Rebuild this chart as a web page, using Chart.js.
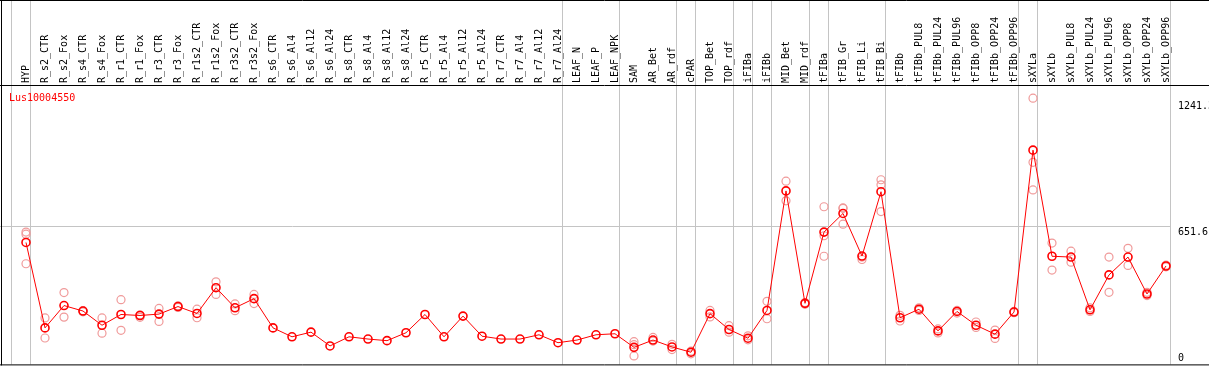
<!DOCTYPE html>
<html>
<head>
<meta charset="utf-8">
<script src="https://cdn.jsdelivr.net/npm/chart.js@4.4.0/dist/chart.umd.min.js"></script>
<style>
  body { margin: 0; background: #fff; }
  canvas { display: block; }
</style>
</head>
<body>
<canvas id="geneChart" width="1209" height="370"></canvas>
<script>
const title = 'Lus10004550';

const categories = [
  'HYP', 'R_s2_CTR', 'R_s2_Fox', 'R_s4_CTR', 'R_s4_Fox', 'R_r1_CTR', 'R_r1_Fox',
  'R_r3_CTR', 'R_r3_Fox', 'R_r1s2_CTR', 'R_r1s2_Fox', 'R_r3s2_CTR', 'R_r3s2_Fox',
  'R_s6_CTR', 'R_s6_Al4', 'R_s6_Al12', 'R_s6_Al24', 'R_s8_CTR', 'R_s8_Al4',
  'R_s8_Al12', 'R_s8_Al24', 'R_r5_CTR', 'R_r5_Al4', 'R_r5_Al12', 'R_r5_Al24',
  'R_r7_CTR', 'R_r7_Al4', 'R_r7_Al12', 'R_r7_Al24', 'LEAF_N', 'LEAF_P', 'LEAF_NPK',
  'SAM', 'AR_Bet', 'AR_rdf', 'cPAR', 'TOP_Bet', 'TOP_rdf', 'iFIBa', 'iFIBb',
  'MID_Bet', 'MID_rdf', 'tFIBa', 'tFIB_Gr', 'tFIB_Li', 'tFIB_Bi', 'tFIBb',
  'tFIBb_PUL8', 'tFIBb_PUL24', 'tFIBb_PUL96', 'tFIBb_OPP8', 'tFIBb_OPP24', 'tFIBb_OPP96',
  'sXYLa', 'sXYLb', 'sXYLb_PUL8', 'sXYLb_PUL24', 'sXYLb_PUL96', 'sXYLb_OPP8',
  'sXYLb_OPP24', 'sXYLb_OPP96'
];

// index of the last sample in each tissue group
const groupEnds = [0, 28, 31, 34, 35, 37, 38, 39, 41, 42, 45, 52, 53, 60];

const means = [
  572, 151, 261, 234, 164, 217, 212, 219, 256, 222, 349, 250, 295,
  151, 107, 130, 62, 107, 96, 88, 127, 217, 107, 209, 110,
  96, 96, 117, 78, 91, 117, 122,
  55, 91, 57, 31, 221, 143, 100, 237,
  826, 272, 623, 715, 505, 822, 201,
  243, 136, 232, 164, 120, 229,
  1027, 504, 500, 240, 412, 500, 318, 456
];

const rep1 = [
  623, 200, 325, 236, 200, 290, 215, 247, 260, 243, 378, 269, 316,
  null, null, null, null, null, null, null, null, null, null, null, null,
  null, null, null, null, null, null, null,
  83, 104, 70, 36, 237, 162, 112, 282,
  874, 276, 748, 740, 500, 881, 213,
  250, 146, 237, 180, 140, 232,
  1283, 569, 529, 250, 500, 543, 326, 460
];

const rep2 = [
  613, 101, 204, 230, 125, 139, 203, 183, 252, 201, 316, 236, 271,
  null, null, null, null, null, null, null, null, null, null, null, null,
  null, null, null, null, null, null, null,
  68, 86, 44, 23, 205, 130, 92, 196,
  777, 268, 605, 662, 488, 856, 185,
  237, 126, 224, 153, 99, 226,
  967, 436, 475, 232, 326, 459, 310, 452
];

const rep3 = [
  467, null, null, null, null, null, null, null, null, null, null, null, null,
  null, null, null, null, null, null, null, null, null, null, null, null,
  null, null, null, null, null, null, null,
  13, null, null, null, null, null, null, null,
  null, null, 504, 742, null, 724, null,
  null, null, null, null, null, null,
  831, null, null, null, null, null, null, null
];

const yTicks = [0, 651.6, 1241.3];
const yMin = -29;
const yMax = 1348;

const FONT = '10px "DejaVu Sans Mono", monospace';
const GRID = '#c4c4c4';

const framePlugin = {
  id: 'frame',
  beforeDatasetsDraw(chart) {
    const ctx = chart.ctx;
    const x = chart.scales.x;
    const y = chart.scales.y;
    const W = chart.width;
    const bottom = chart.chartArea.bottom;
    const lastX = x.getPixelForValue(categories.length - 1) + 4;

    ctx.save();
    ctx.lineWidth = 1;
    ctx.strokeStyle = GRID;
    // group separators
    const seps = [-1].concat(groupEnds);
    seps.forEach(i => {
      const px = Math.round(x.getPixelForValue(i) + 4) + 0.5;
      ctx.beginPath();
      ctx.moveTo(px, 0);
      ctx.lineTo(px, bottom);
      ctx.stroke();
    });
    // middle horizontal grid line
    const gy = Math.round(y.getPixelForValue(yTicks[1])) + 0.5;
    ctx.beginPath();
    ctx.moveTo(0, gy);
    ctx.lineTo(Math.round(lastX), gy);
    ctx.stroke();

    // black frame
    ctx.strokeStyle = '#000';
    ctx.beginPath();
    ctx.moveTo(0, 0.5); ctx.lineTo(W, 0.5);
    ctx.moveTo(1.5, 0); ctx.lineTo(1.5, bottom + 1);
    ctx.moveTo(0, 85.5); ctx.lineTo(W, 85.5);
    ctx.moveTo(0, bottom + 0.5); ctx.lineTo(W, bottom + 0.5);
    ctx.stroke();
    ctx.restore();
  },
  afterDraw(chart) {
    const ctx = chart.ctx;
    const x = chart.scales.x;
    const y = chart.scales.y;
    ctx.save();
    ctx.font = FONT;
    ctx.fillStyle = '#000';

    // sample names, rotated, above the plot
    categories.forEach((name, i) => {
      ctx.save();
      ctx.translate(x.getPixelForValue(i), 83);
      ctx.rotate(-Math.PI / 2);
      ctx.textAlign = 'left';
      ctx.textBaseline = 'middle';
      ctx.fillText(name, 0, 0);
      ctx.restore();
    });

    // value labels on the right
    ctx.textAlign = 'left';
    yTicks.forEach((v, i) => {
      const py = y.getPixelForValue(v);
      if (i === 1) {
        ctx.textBaseline = 'top';
        ctx.fillText(String(v), 1178, py + 1);
      } else {
        ctx.textBaseline = 'middle';
        ctx.fillText(String(v), 1178, py);
      }
    });

    // gene id
    ctx.fillStyle = '#ff0000';
    ctx.textBaseline = 'middle';
    ctx.fillText(title, 9, 98);
    ctx.restore();
  }
};

const repStyle = {
  type: 'line',
  showLine: false,
  pointRadius: 4,
  pointBorderWidth: 1.2,
  pointBorderColor: '#f09a9a',
  pointBackgroundColor: 'rgba(0,0,0,0)',
  pointHoverRadius: 4,
  clip: false
};

new Chart(document.getElementById('geneChart'), {
  type: 'line',
  data: {
    labels: categories,
    datasets: [
      {
        label: 'mean',
        data: means,
        borderColor: '#ff0000',
        borderWidth: 1,
        pointRadius: 4,
        pointBorderWidth: 1.6,
        pointBorderColor: '#ff0000',
        pointBackgroundColor: 'rgba(0,0,0,0)',
        tension: 0,
        clip: false
      },
      Object.assign({ label: 'rep1', data: rep1 }, repStyle),
      Object.assign({ label: 'rep2', data: rep2 }, repStyle),
      Object.assign({ label: 'rep3', data: rep3 }, repStyle)
    ]
  },
  options: {
    responsive: false,
    animation: false,
    layout: { padding: { top: 85, bottom: 2, left: 16.5, right: 33.5 } },
    plugins: {
      legend: { display: false },
      tooltip: { enabled: false }
    },
    scales: {
      x: { type: 'category', offset: true, display: false },
      y: { min: yMin, max: yMax, display: false }
    }
  },
  plugins: [framePlugin]
});
</script>
</body>
</html>
